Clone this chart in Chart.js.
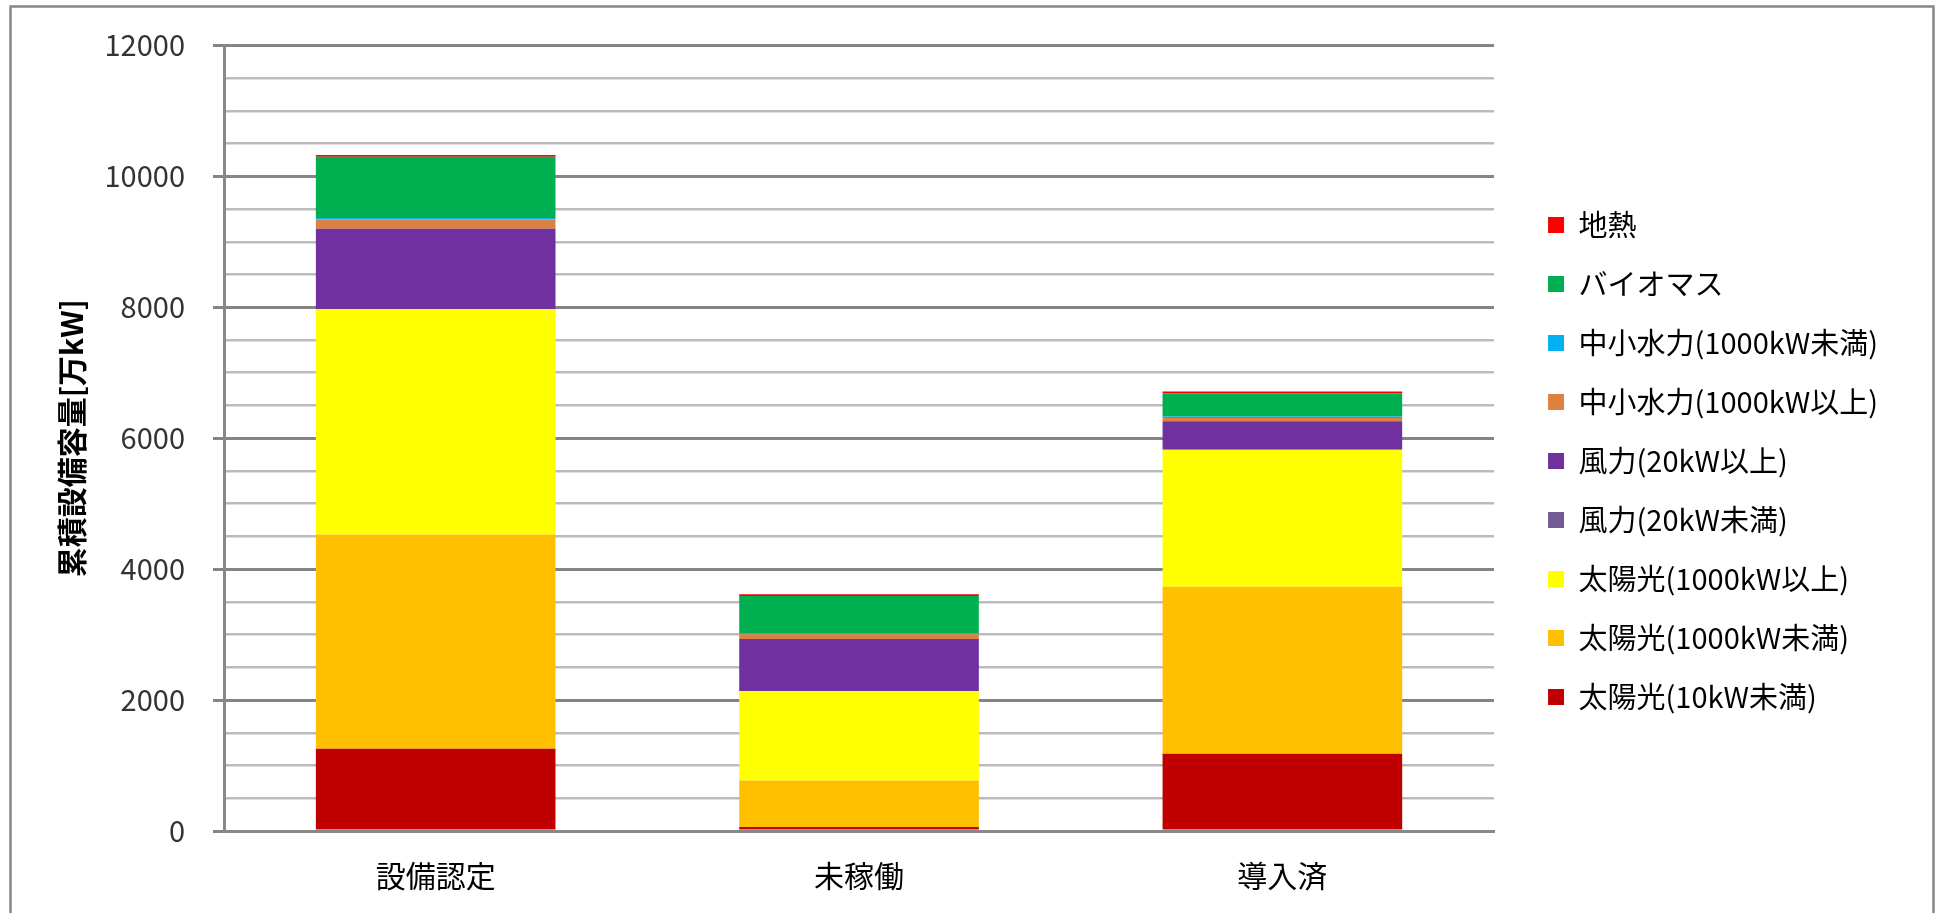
<!DOCTYPE html>
<html>
<head>
<meta charset="utf-8">
<script src="https://cdn.jsdelivr.net/npm/chart.js@4.4.1/dist/chart.umd.min.js"></script>
<style>
  html, body { margin: 0; padding: 0; background: #fff; }
  #wrap { width: 1939px; height: 913px; position: relative; }
</style>
</head>
<body>
<div id="wrap"><canvas id="myChart"></canvas></div>
<script>
// categories on the x axis
var labels = ['設備認定', '未稼働', '導入済'];

// cumulative capacity per source [万kW], stacked bottom to top
var solarUnder10 = [1255, 60, 1179];      // 太陽光(10kW未満)
var solarUnder1000 = [3274, 712, 2552];   // 太陽光(1000kW未満)
var solarOver1000 = [3441, 1366, 2092];   // 太陽光(1000kW以上)
var windUnder20 = [1, 0.5, 0.6];          // 風力(20kW未満)
var windOver20 = [1228, 796, 436];        // 風力(20kW以上)
var hydroOver1000 = [143, 72, 50];        // 中小水力(1000kW以上)
var hydroUnder1000 = [20, 10, 20];        // 中小水力(1000kW未満)
var biomass = [939, 573, 355];            // バイオマス
var geothermal = [25, 26, 30];            // 地熱

var yTicks = [0, 2000, 4000, 6000, 8000, 10000, 12000];

var font = "'Noto Sans CJK JP', 'Noto Sans', sans-serif";

function isMajor(v) {
    return yTicks.indexOf(v) !== -1;
}

// frame around the whole chart
var frame = {
    id: 'frame',
    beforeDraw: function (chart) {
        var ctx = chart.ctx;
        ctx.save();
        ctx.fillStyle = '#fff';
        ctx.fillRect(0, 0, chart.width, chart.height);
        ctx.strokeStyle = '#878787';
        ctx.lineWidth = 2.5;
        ctx.strokeRect(10.5, 6.5, 1923, 1000);
        ctx.restore();
    }
};

// move the legend away from the plot and up a little
var legendPos = {
    id: 'legendPos',
    afterLayout: function (chart) {
        var lg = chart.legend;
        lg.left += 24;
        lg.right += 24;
        lg.top -= 8;
        lg.bottom -= 8;
    }
};

function ds(label, data, color) {
    return {
        label: label,
        data: data,
        backgroundColor: color,
        borderWidth: 0
    };
}

var ctx = document.getElementById('myChart').getContext('2d');
var myChart = new Chart(ctx, {
    type: 'bar',
    data: {
        labels: labels,
        datasets: [
            ds('太陽光(10kW未満)', solarUnder10, '#C00000'),
            ds('太陽光(1000kW未満)', solarUnder1000, '#FFC000'),
            ds('太陽光(1000kW以上)', solarOver1000, '#FFFF00'),
            ds('風力(20kW未満)', windUnder20, '#715A94'),
            ds('風力(20kW以上)', windOver20, '#7030A0'),
            ds('中小水力(1000kW以上)', hydroOver1000, '#DC8240'),
            ds('中小水力(1000kW未満)', hydroUnder1000, '#00B0F0'),
            ds('バイオマス', biomass, '#00B050'),
            ds('地熱', geothermal, '#FF0000')
        ]
    },
    options: {
        responsive: true,
        maintainAspectRatio: false,
        animation: false,
        layout: { padding: { left: 0, top: 43, right: 75, bottom: 18 } },
        datasets: {
            bar: { categoryPercentage: 1, barPercentage: 0.566 }
        },
        plugins: {
            tooltip: { enabled: false },
            legend: {
                position: 'right',
                reverse: true,
                labels: {
                    boxWidth: 16,
                    boxHeight: 16,
                    padding: 30,
                    color: '#000',
                    font: { family: font, size: 29 }
                }
            }
        },
        scales: {
            x: {
                stacked: true,
                grid: { display: false, drawTicks: false },
                border: { color: '#888', width: 3 },
                ticks: {
                    padding: 27,
                    color: '#000',
                    font: { family: font, size: 30 }
                },
                afterFit: function (scale) { scale.height = 64; }
            },
            y: {
                stacked: true,
                min: 0,
                max: 12000,
                ticks: {
                    stepSize: 500,
                    autoSkip: false,
                    padding: 28,
                    color: '#333',
                    font: { family: font, size: 29 },
                    callback: function (v) { return isMajor(v) ? v : ''; }
                },
                grid: {
                    tickLength: 11,
                    color: function (c) { return isMajor(c.tick.value) ? '#858585' : '#bbbbbb'; },
                    lineWidth: function (c) { return isMajor(c.tick.value) ? 3 : 2.5; },
                    tickColor: function (c) { return isMajor(c.tick.value) ? '#858585' : 'rgba(0,0,0,0)'; }
                },
                border: { color: '#888', width: 3 },
                title: {
                    display: true,
                    text: '累積設備容量[万kW]',
                    color: '#000',
                    padding: { top: 54 },
                    font: { family: font, size: 30, weight: 'bold' }
                },
                afterFit: function (scale) { scale.width = 224; }
            }
        }
    },
    plugins: [frame, legendPos]
});
</script>
</body>
</html>
